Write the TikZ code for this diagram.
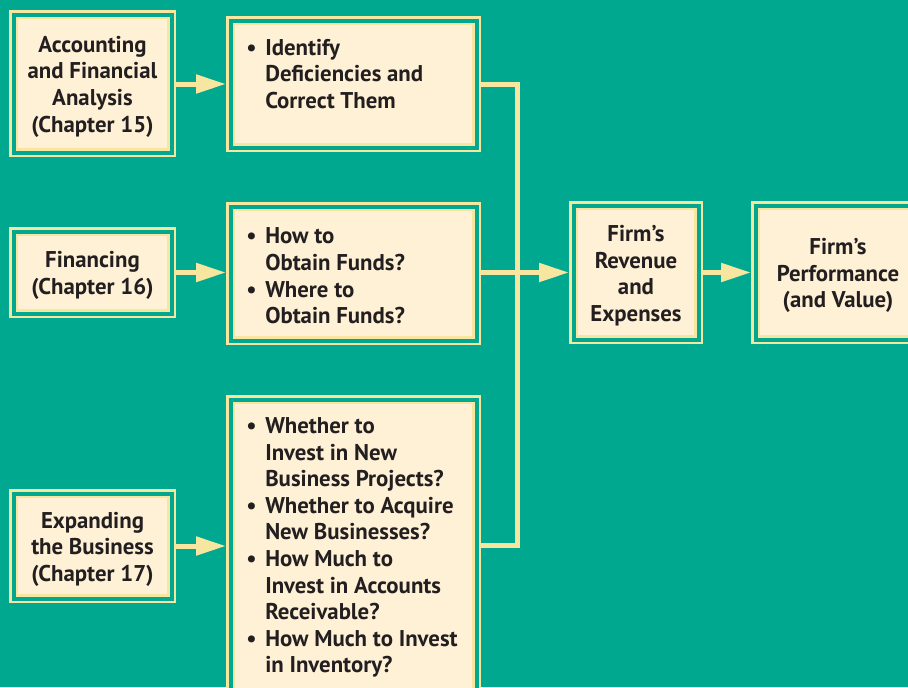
\documentclass[tikz,border=0pt]{standalone}
\usepackage{fontspec}
\setmainfont{PT Sans}
\usetikzlibrary{arrows.meta}
\definecolor{bgteal}{HTML}{00A88F}
\definecolor{cream}{HTML}{FFF1D6}
\definecolor{lineyel}{HTML}{F6E6A0}
\definecolor{inkdark}{HTML}{231F20}
\newcommand\mybul{\makebox[14.25pt][l]{\textbullet}}
\newcommand\myind{\hspace*{14.25pt}}
\begin{document}
\begin{tikzpicture}[x=0.75pt,y=-0.75pt,
  box/.style={rectangle, draw=lineyel, line width=1.875pt, double=bgteal,
    double distance=3pt, fill=cream, outer sep=3.375pt, inner sep=0pt},
  txt/.style={font=\fontsize{17.1}{19.95}\selectfont\bfseries, text=inkdark,
    align=center, inner sep=0pt},
  ltxt/.style={txt, align=left, anchor=west},
  conn/.style={draw=lineyel, line width=3.75pt},
  arr/.style={conn, -{Triangle[length=22.5pt,width=13.5pt]}}]
\useasboundingbox (0,0) rectangle (908,687);
\fill[bgteal] (0,0) rectangle (908,687);
\clip (0,0) rectangle (908,687);

% boxes
\node[box, minimum width=118.5pt, minimum height=103.5pt] (A1) at (92.5,83.5) {};
\node[box, minimum width=184.5pt, minimum height=95.25pt] (A2) at (353.5,84) {};
\node[box, minimum width=118.5pt, minimum height=61.5pt] (B1) at (92.5,272.5) {};
\node[box, minimum width=184.5pt, minimum height=100.5pt] (B2) at (353.5,273.5) {};
\node[box, minimum width=118.5pt, minimum height=78.75pt] (C1) at (92.5,546) {};
\node[box, minimum width=184.5pt, minimum height=225.75pt] (C2) at (353.5,550) {};
\node[box, minimum width=93.75pt, minimum height=100.5pt] (D) at (636,272.5) {};
\node[box, minimum width=123.75pt, minimum height=100.5pt] (E) at (838,272.5) {};

% texts
\node[txt] (tA1) at (92.5,86.5) {Accounting\\and Financial\\Analysis\\(Chapter 15)};
\node[txt] (tB1) at (92.5,275.5) {Financing\\(Chapter 16)};
\node[txt] (tC1) at (92.5,549) {Expanding\\the Business\\(Chapter 17)};
\node[txt] (tD) at (636,275.5) {Firm’s\\Revenue\\and\\Expenses};
\node[txt] (tE) at (838,275.5) {Firm’s\\Performance\\(and Value)};
\node[ltxt] (tA2) at (246,74) {\mybul Identify\\\myind Deficiencies and\\\myind Correct Them};
\node[ltxt] (tB2) at (246,276) {\mybul How to\\\myind Obtain Funds?\\\mybul Where to\\\myind Obtain Funds?};
\node[ltxt] (tC2) at (246,547.5) {\mybul Whether to\\\myind Invest in New\\\myind Business Projects?\\\mybul Whether to Acquire\\\myind New Businesses?\\\mybul How Much to\\\myind Invest in Accounts\\\myind Receivable?\\\mybul How Much to Invest\\\myind in Inventory?};

% connectors
\coordinate (J) at (517.5,84);
\coordinate (K) at (517.5,545);
\draw[arr] (A1.east |- A2.west) -- (A2.west);
\draw[arr] (B1.east) -- (B1.east -| B2.west);
\draw[arr] (C1.east) -- (C1.east -| C2.west);
\draw[conn, line join=miter] (A2.east) -- (J) -- (K) -- (K -| C2.east);
\draw[arr] (B2.east |- D.west) -- (D.west);
\draw[arr] (D.east) -- (E.west);
\end{tikzpicture}
\end{document}
